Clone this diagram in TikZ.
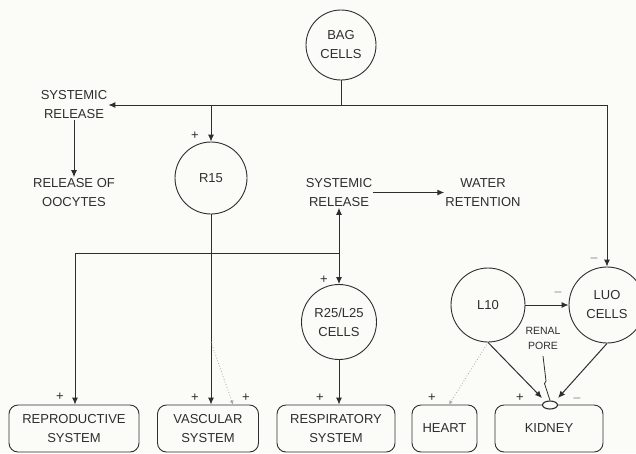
\documentclass[tikz,border=0pt]{standalone}
\usepackage{fontspec}
\setmainfont{Liberation Sans}
\usetikzlibrary{arrows.meta,shapes.geometric}
\definecolor{ink}{HTML}{2E2E2E}
\definecolor{bg}{HTML}{FBFBF8}
\begin{document}
\begin{tikzpicture}[x=1pt,y=-1pt,
  every node/.style={text=ink,font=\fontsize{13}{19}\selectfont},
  lbl/.style={align=center,inner sep=1pt},
  cell/.style={circle,draw=ink,line width=0.9pt,align=center,inner sep=0pt},
  organ/.style={draw=ink,line width=0.9pt,rounded corners=9pt,align=center,inner sep=0pt},
  conn/.style={draw=ink,line width=1pt},
  arr/.style={conn,-{Latex[length=7pt,width=6pt]}},
  faint/.style={draw=gray!70,line width=0.8pt,dotted,-{Latex[length=4pt,width=4pt,open]}},
  sgn/.style={inner sep=0pt,font=\fontsize{13}{13}\selectfont}]
\useasboundingbox[fill=bg] (0,0) rectangle (636,453);
\begin{scope}
\clip (0,0) rectangle (636,453);
% cells
\node[cell,minimum size=70pt] (bag) at (341,45) {BAG\\CELLS};
\node[cell,minimum size=72pt] (r15) at (211,178) {R15};
\node[cell,minimum size=75pt] (r25) at (339,322) {R25/L25\\CELLS};
\node[cell,minimum size=74pt] (l10) at (488,305) {L10};
\node[cell,minimum size=76pt] (luo) at (607,305) {LUO\\CELLS};
% organs
\node[organ,minimum width=130pt,minimum height=47pt] (repro) at (74,428.5) {REPRODUCTIVE\\SYSTEM};
\node[organ,minimum width=101pt,minimum height=47pt] (vasc) at (208,428.5) {VASCULAR\\SYSTEM};
\node[organ,minimum width=118pt,minimum height=47pt] (resp) at (336,428.5) {RESPIRATORY\\SYSTEM};
\node[organ,minimum width=65pt,minimum height=47pt] (heart) at (444.5,428.5) {HEART};
\node[organ,minimum width=108pt,minimum height=47pt] (kid) at (549,428.5) {KIDNEY};
% labels
\node[lbl] (sys1) at (74,104.5) {SYSTEMIC\\RELEASE};
\node[lbl] (ooc) at (74,192.5) {RELEASE OF\\OOCYTES};
\node[lbl] (sys2) at (339,192.5) {SYSTEMIC\\RELEASE};
\node[lbl] (wat) at (483,192.5) {WATER\\RETENTION};
\node[lbl,font=\fontsize{10.5}{15}\selectfont] (pore) at (543,338) {RENAL\\PORE};
% junctions
\coordinate (jb) at (341,105);
\coordinate (jl) at (607,105);
\coordinate (jr) at (211,105);
\coordinate (j2) at (339,253);
\coordinate (jrep) at (75,253);
\coordinate (dv) at (211,342);
\coordinate (dvx) at (233,400);
\coordinate (htx) at (449,400);
\coordinate (p1) at (543,356);
\coordinate (p2) at (546,381);
\coordinate (p3) at (544.5,383.5);
\node[ellipse,draw=ink,line width=1.1pt,fill=bg,minimum width=15pt,minimum height=8pt,inner sep=0pt] (hole) at (550,405) {};
\coordinate (kl) at (542,398);
\coordinate (kr) at (558,398);
% connectors
\draw[conn] (bag.south) -- (jb);
\draw[arr] (jl) -- (sys1.east |- jl);
\draw[arr] (jl) -- (luo.north);
\draw[arr] (jr) -- (r15.north);
\draw[arr] (sys1.south) -- (ooc.north);
\draw[arr] (r15.south) -- (r15.south |- vasc.north);
\draw[faint] (dv) -- (dvx |- vasc.north);
\draw[arr] (sys2.east) -- (wat.west);
\draw[arr] (j2) -- (sys2.south);
\draw[arr] (j2) -- (r25.north);
\draw[arr] (j2) -- (jrep) -- (jrep |- repro.north);
\draw[arr] (r25.south) -- (r25.south |- resp.north);
\draw[arr] (l10.east) -- (luo.west);
\draw[faint] (l10.south) -- (htx |- heart.north);
\draw[arr] (l10.south) -- (kl);
\draw[arr] (luo.south) -- (kr);
\draw[conn,line width=0.8pt] (p1) -- (p2) -- (p3) -- (hole.north);
% signs
\node[sgn] (s1) at (195,136) {+};
\node[sgn] (s2) at (324,280) {+};
\node[sgn] (s3) at (594,258) {$-$};
\node[sgn] (s4) at (558,292) {$-$};
\node[sgn] (s5) at (60,397) {+};
\node[sgn] (s6) at (195,398) {+};
\node[sgn] (s7) at (246,398) {+};
\node[sgn] (s8) at (320,398) {+};
\node[sgn] (s9) at (432,398) {+};
\node[sgn] (s10) at (520,398) {+};
\node[sgn] (s11) at (577,398) {$-$};
\end{scope}
\end{tikzpicture}
\end{document}
